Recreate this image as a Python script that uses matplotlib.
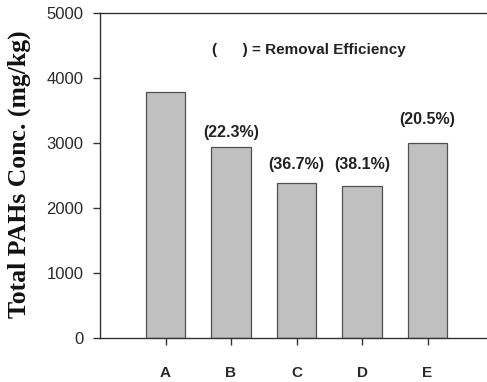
import matplotlib
matplotlib.use("Agg")
import matplotlib.pyplot as plt

# Total PAH concentration per treatment and the removal efficiency relative to A
categories = ["A", "B", "C", "D", "E"]
pah_conc = [3785, 2935, 2390, 2340, 3005]
removal_labels = ["", "(22.3%)", "(36.7%)", "(38.1%)", "(20.5%)"]
yticks = [0, 1000, 2000, 3000, 4000, 5000]

# vertical gap (points) between each bar top and its efficiency label
label_gap = [0, 5.5, 8, 10, 11.5]

fig = plt.figure(figsize=(4.87, 3.82), dpi=100)
W, H = 487, 382
ax = fig.add_axes([100 / W, (H - 338.3) / H, 393 / W, (338.3 - 12.7) / H])

positions = list(range(1, len(categories) + 1))
ax.bar(positions, pah_conc, width=0.61, color="#c0c0c0",
       edgecolor="#505050", linewidth=0.9, zorder=2)

for x, v, lab, gap in zip(positions, pah_conc, removal_labels, label_gap):
    if lab:
        ax.annotate(lab, (x, v), xytext=(0, gap), textcoords="offset points",
                    ha="center", va="bottom", fontsize=11.5, fontweight="bold",
                    family="Liberation Sans", color="#222222")

ax.text(0.285, 0.885, "(      ) = Removal Efficiency", transform=ax.transAxes,
        ha="left", va="center", fontsize=11, fontweight="bold",
        family="Liberation Sans", color="#222222")

ax.set_xlim(0, 6)
ax.set_ylim(0, 5000)
ax.set_xticks(positions)
ax.set_xticklabels(categories, fontsize=11, fontweight="bold",
                   family="Liberation Sans", color="#222222")
ax.set_yticks(yticks)
ax.set_yticklabels([str(t) for t in yticks], fontsize=12,
                   family="Liberation Sans", color="#333333")
ax.tick_params(axis="x", direction="out", length=5, width=1, pad=15, colors="#333333")
ax.tick_params(axis="y", direction="out", length=5, width=1, pad=7, colors="#333333")
for lab in ax.get_xticklabels() + ax.get_yticklabels():
    lab.set_color("#2a2a2a")

ax.spines["right"].set_visible(False)
for s in ("left", "bottom", "top"):
    ax.spines[s].set_color("#333333")
    ax.spines[s].set_linewidth(1)

fig.text(19 / W, 1 - 174 / H, "Total PAHs Conc. (mg/kg)", rotation=90,
         ha="center", va="center", fontsize=18.5, fontweight="bold",
         family="Liberation Serif", color="#111111")

fig.savefig("out.png", dpi=100)
